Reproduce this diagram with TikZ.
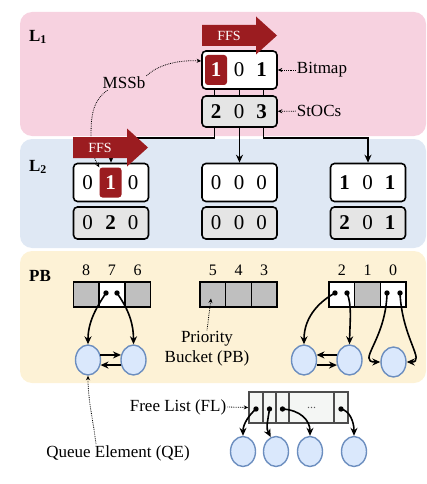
\documentclass[tikz,border=0pt]{standalone}
\usepackage{fontspec}
\setmainfont{Liberation Serif}
\usetikzlibrary{arrows.meta,shapes.geometric}

\definecolor{lvlpink}{RGB}{247,210,224}
\definecolor{lvlblue}{RGB}{223,232,244}
\definecolor{lvlyellow}{RGB}{253,242,214}
\definecolor{ffsred}{RGB}{155,28,32}
\definecolor{qefill}{RGB}{218,232,252}
\definecolor{qeline}{RGB}{108,142,191}
\definecolor{flfill}{RGB}{244,246,244}

\newcommand{\lblfont}{\fontsize{17}{20}\selectfont}
\newcommand{\digfont}{\fontsize{21}{24}\selectfont}

% three digits of a bitmap / StOC word
\newcommand{\threebits}[4]{%
  \node[bit] (#1-a) at ([xshift=-23.5pt]#1.center) {#2};
  \node[bit] (#1-b) at ([xshift=-0.5pt]#1.center) {#3};
  \node[bit] (#1-c) at ([xshift=22pt]#1.center) {#4};}

% FFS arrow, tail centre at #2
\newcommand{\ffsarrow}[2]{%
  \fill[ffsred] (#2) ++(0,-10.5) -- ++(54,0) -- ++(0,-8.5) -- ++(21,19) -- ++(-21,19) -- ++(0,-8.5) -- ++(-54,0) -- cycle;
  \node[text=white, font=\fontsize{14}{16}\selectfont] (#1) at ([xshift=27pt]#2) {FFS};}

\begin{document}
\begin{tikzpicture}[x=1pt,y=-1pt,
  bmp/.style={draw, line width=1.6pt, rounded corners=4pt, fill=white, minimum width=75pt, minimum height=38pt, inner sep=0pt},
  stoc/.style={bmp, fill=gray!20, minimum height=31pt},
  msb/.style={fill=ffsred, rounded corners=3pt, minimum width=22pt, minimum height=30pt, inner sep=0pt},
  bit/.style={inner sep=0pt, font=\digfont},
  cell/.style={draw, line width=1.5pt, minimum width=25.7pt, minimum height=25pt, inner sep=0pt},
  flcell/.style={draw=gray!60!black, fill=flfill, line width=1.5pt, minimum height=31pt, inner sep=0pt},
  qelem/.style={ellipse, draw=qeline, fill=qefill, line width=1.4pt, minimum width=25pt, minimum height=30pt, inner sep=0pt},
  dot/.style={circle, fill, inner sep=0pt, minimum size=5.4pt},
  ptr/.style={line width=1.6pt, -{Stealth[length=8pt,width=7pt]}},
  dotarr/.style={densely dotted, line width=0.8pt, -{Stealth[length=4.5pt,width=4pt]}},
  txt/.style={inner sep=1pt, font=\lblfont}]

\useasboundingbox (0,0) rectangle (427,484);

% level backgrounds
\fill[lvlpink, rounded corners=12pt] (20,12) rectangle (426,136);
\fill[lvlblue, rounded corners=12pt] (20,139) rectangle (426,248);
\fill[lvlyellow, rounded corners=12pt] (20,251) rectangle (426,383);

\node[txt, font=\lblfont\bfseries] (lone) at (38,37) {L\textsubscript{1}};
\node[txt, font=\lblfont\bfseries] (ltwo) at (38,167) {L\textsubscript{2}};
\node[txt, font=\lblfont\bfseries] (pblvl) at (40,276) {PB};

% L1 word
\node[bmp] (l1bmp) at (239.5,70) {};
\node[msb] (l1msb) at ([xshift=-23.5pt]l1bmp.center) {};
\threebits{l1bmp}{\textcolor{white}{\textbf{1}}}{0}{\textbf{1}}
\node[stoc] (l1stoc) at (239.5,111.5) {};
\threebits{l1stoc}{\textbf{2}}{0}{\textbf{3}}
\foreach \dx in {-25,0,24}
  \draw[line width=1.5pt] ([xshift=\dx pt]l1bmp.south) -- ([xshift=\dx pt]l1stoc.north);

\node[txt] (bmlbl) at (322,70) {Bitmap};
\node[txt] (stlbl) at (319,111) {StOCs};
\draw[dotarr] (bmlbl) -- (l1bmp);
\draw[dotarr] (stlbl) -- (l1stoc);

% L2 words
\foreach \nm/\x in {l2a/111, l2b/239.5, l2c/368} {
  \node[bmp] (\nm) at (\x,182.5) {};
  \node[stoc, minimum height=32pt] (\nm-s) at (\x,223) {};
}
\node[msb] (l2msb) at ([xshift=-0.5pt]l2a.center) {};
\threebits{l2a}{0}{\textcolor{white}{\textbf{1}}}{0}
\threebits{l2a-s}{0}{\textbf{2}}{0}
\threebits{l2b}{0}{0}{0}
\threebits{l2b-s}{0}{0}{0}
\threebits{l2c}{\textbf{1}}{0}{\textbf{1}}
\threebits{l2c-s}{\textbf{2}}{0}{\textbf{1}}

\draw[ptr] ([xshift=-25pt]l1stoc.south) -- ++(0,10) -| (l2a.north);
\draw[ptr] (l1stoc.south) -- (l2b.north);
\draw[ptr] ([xshift=24pt]l1stoc.south) -- ++(0,10) -| (l2c.north);

% MSSb pointers
\node[txt] (mssb) at (124,83) {MSSb};
\draw[dotarr] (mssb.north east) .. controls (160,63) and (182,60) .. ([yshift=9pt]l1bmp.west);
\draw[dotarr] ([xshift=6pt]mssb.south west) .. controls (94,100) and (91,112) .. (91,135)
  .. controls (91,152) and (95,160) .. (l2msb.north west);

\ffsarrow{ffsone}{202,35.5}
\ffsarrow{ffstwo}{73,147.5}

% priority buckets
\foreach \n/\x/\c in {8/86.2/gray!50, 7/111.9/white, 6/137.6/gray!50,
                      5/212.8/gray!50, 4/238.5/gray!50, 3/264.2/gray!50,
                      2/341.8/white, 1/367.5/gray!50, 0/393.2/white} {
  \node[cell, fill=\c] (pb\n) at (\x,294.5) {};
  \node[txt, font=\fontsize{16}{18}\selectfont] (pbn\n) at (\x,270) {\n};
}
\node[dot] (d7a) at (106,293) {};
\node[dot] (d7b) at (117,293) {};
\node[dot] (d2a) at (335,293) {};
\node[dot] (d2b) at (347,293) {};
\node[dot] (d0a) at (387,293) {};
\node[dot] (d0b) at (400,293) {};

\node[qelem] (q1) at (88,360) {};
\node[qelem] (q2) at (133.5,360) {};
\node[qelem] (q3) at (304,360) {};
\node[qelem] (q4) at (349.5,360) {};
\node[qelem] (q5) at (393.5,362) {};

\draw[ptr] (d7a.center) .. controls (96,308) and (88,322) .. (q1.north);
\draw[ptr] (d7b.center) .. controls (126,306) and (133.5,320) .. (q2.north);
\draw[ptr] (q1.22) -- (q2.158);
\draw[ptr] (q2.-158) -- (q1.-22);
\draw[ptr] (d2a.center) .. controls (322,300) and (304,315) .. (q3.north);
\draw[ptr] (d2b.center) .. controls (352,305) and (350,320) .. (q4.north);
\draw[ptr] (q4.158) -- (q3.22);
\draw[ptr] (q3.-22) -- (q4.-158);
\draw[ptr] (d0a.center) .. controls (386,340) and (356,362) .. (q5.west);
\draw[ptr] (d0b.center) .. controls (402,338) and (426,362) .. (q5.east);

\node[txt, align=center] (pblbl) at (207,349) {Priority\\Bucket (PB)};
\draw[dotarr] (pblbl.north) -- ([shift={(-1.8pt,-4pt)}]pb5.center);

\node[txt] (qelbl) at (118,453) {Queue Element (QE)};
\draw[dotarr] ([xshift=-22pt]qelbl.north) .. controls +(-3,-25) and +(0,25) .. (q1.south);

% free list
\foreach \n/\x/\w in {1/256/14, 2/269.5/13, 3/282.5/13, 4/311.5/45, 5/341/14}
  \node[flcell, minimum width=\w pt] (fl\n) at (\x,407.5) {};
\node[text=gray!70!black, font=\fontsize{12}{12}\selectfont] (fldots) at (fl4) {...};
\foreach \n in {1,2,3,5}
  \node[dot] (fd\n) at ([yshift=-1.5pt]fl\n.center) {};
\foreach \n/\x in {1/243, 2/276, 3/310, 4/354}
  \node[qelem] (fq\n) at (\x,451.5) {};

\draw[ptr] (fd1.center) .. controls (249,415) and (243,424) .. (fq1.north);
\draw[ptr] (fd2.center) .. controls (267,425) and (266,428) .. (fq2.110);
\draw[ptr] (fd3.center) .. controls (300,410) and (310,420) .. (fq3.north);
\draw[ptr] (fd5.center) .. controls (350,411) and (354,422) .. (fq4.north);

\node[txt] (fllbl) at (178,407) {Free List (FL)};
\draw[dotarr] (fllbl.east) -- (fl1.west);
\end{tikzpicture}
\end{document}
